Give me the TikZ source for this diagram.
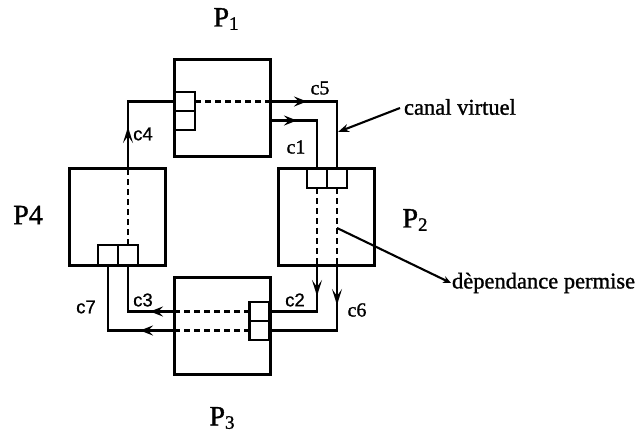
\documentclass[tikz,border=0pt]{standalone}
\usepackage{fontspec}
\setmainfont{Liberation Serif}
\newfontfamily\heavy{Liberation Serif}[FakeBold=1.2]
\newfontfamily\lsans{Liberation Sans}[FakeBold=0.8]
\usetikzlibrary{arrows.meta,calc}
\begin{document}
\begin{tikzpicture}[x=1pt,y=-1pt,
  every path/.style={line width=2.1pt},
  proc/.style={draw,line width=2.1pt,inner sep=0pt,outer sep=0pt,minimum width=96pt,minimum height=97pt},
  buf/.style={draw,line width=2.1pt,inner sep=0pt,outer sep=0pt,minimum width=20pt,minimum height=19pt},
  dsh/.style={dash pattern=on 6pt off 4pt,line width=2.1pt},
  mid/.style={-{Stealth[length=13pt,width=10pt,inset=5pt]},line width=2.1pt},
  midv/.style={-{Stealth[length=16pt,width=10pt,inset=7pt]},line width=2.1pt},
  note/.style={font=\heavy\fontsize{22.5}{24}\selectfont,inner sep=0pt,anchor=west},
  plab/.style={font=\heavy\fontsize{28}{30}\selectfont,inner sep=0pt},
  cser/.style={font=\heavy\fontsize{20}{22}\selectfont,inner sep=0pt},
  csan/.style={font=\lsans\fontsize{18.5}{20}\selectfont,inner sep=0pt}]
\useasboundingbox (0,0) rectangle (641,442);
% processors
\node[proc] (P1) at (222.5,108) {};
\node[proc] (P2) at (326.5,217) {};
\node[proc] (P3) at (222.5,326) {};
\node[proc] (P4) at (117.5,217) {};
% buffers
\node[buf] (b1a) at (185,101.5) {};
\node[buf] (b1b) at (185,120.5) {};
\node[buf] (b2a) at (317,178.5) {};
\node[buf] (b2b) at (337,178.5) {};
\node[buf] (b3a) at (259.5,311.5) {};
\node[buf] (b3b) at (259.5,330.5) {};
\node[buf,minimum height=20pt] (b4a) at (108,255) {};
\node[buf,minimum height=20pt] (b4b) at (128,255) {};
% bend points
\coordinate (k5a) at (b1a.east -| P1.east);
\coordinate (k5b) at (b1a.east -| b2b.north);
\coordinate (k1a) at (b1b.east -| P1.east);
\coordinate (k1b) at (b1b.east -| b2a.north);
\coordinate (k2a) at (b2a.south |- P2.south);
\coordinate (k2b) at (b2a.south |- b3a.east);
\coordinate (k6a) at (b2b.south |- P2.south);
\coordinate (k6b) at (b2b.south |- b3b.east);
\coordinate (k3a) at (b3a.west -| P3.west);
\coordinate (k3b) at (b3a.west -| b4b.south);
\coordinate (k7a) at (b3b.west -| P3.west);
\coordinate (k7b) at (b3b.west -| b4a.south);
\coordinate (k4a) at (b4b.north |- P4.north);
\coordinate (k4b) at (b4b.north |- b1a.west);
% c5 / c6 chain
\draw[dsh] (b1a.east) -- (k5a);
\draw (k5a) -- (k5b) -- (b2b.north);
\draw[dsh] (b2b.south) -- (k6a);
\draw (k6a) -- (k6b) -- (b3b.east);
\draw[dsh] (b3b.west) -- (k7a);
\draw (k7a) -- (k7b) -- (b4a.south);
% c1 / c2 chain
\draw (k1a) -- (k1b) -- (b2a.north);
\draw[dsh] (b2a.south) -- (k2a);
\draw (k2a) -- (k2b) -- (b3a.east);
\draw[dsh] (b3a.west) -- (k3a);
\draw (k3a) -- (k3b) -- (b4b.south);
\draw[dsh] (b4b.north) -- (k4a);
\draw (k4a) -- (k4b) -- (b1a.west);
% arrow heads on channels
\coordinate (t5) at (307,101.5);
\coordinate (t1) at (297,120.5);
\coordinate (t2) at (317,296);
\coordinate (t6) at (337,305);
\coordinate (t3) at (150,311.5);
\coordinate (t7) at (140,330.5);
\coordinate (t4) at (128,127);
\draw[mid] ($(t5)+(-15,0)$) -- (t5);
\draw[mid] ($(t1)+(-15,0)$) -- (t1);
\draw[midv] ($(t2)+(0,-18)$) -- (t2);
\draw[midv] ($(t6)+(0,-18)$) -- (t6);
\draw[mid] ($(t3)+(15,0)$) -- (t3);
\draw[mid] ($(t7)+(15,0)$) -- (t7);
\draw[midv] ($(t4)+(0,18)$) -- (t4);
% processor labels
\node[plab] (l1) at (226,19) {P\raisebox{-0.12em}{\fontsize{19}{20}\selectfont 1}};
\node[plab] (l2) at (415,220) {P\raisebox{-0.12em}{\fontsize{19}{20}\selectfont 2}};
\node[plab] (l3) at (222,418) {P\raisebox{-0.12em}{\fontsize{19}{20}\selectfont 3}};
\node[plab] (l4) at (28,215) {P4};
% channel labels
\node[cser] (c5) at (320,88) {c5};
\node[cser] (c1) at (296,147) {c1};
\node[csan] (c2) at (295,300) {c2};
\node[cser] (c6) at (357,310) {c6};
\node[csan] (c3) at (143,300) {c3};
\node[csan] (c7) at (86,307) {c7};
\node[csan] (c4) at (143,134) {c4};
% annotations
\node[note] (cv) at (403,107) {canal virtuel};
\coordinate (cvt) at (338,132);
\draw[-{Stealth[length=11pt,width=8pt]}] (cv.west) ++(-3,1) -- (cvt);
\node[note] (dp) at (451,283) {dèpendance permise};
\coordinate (dps) at (b2b.south |- 0,228);
\draw[-{Stealth[length=8pt,width=7pt]}] (dps) -- (dp.west);
\end{tikzpicture}
\end{document}
